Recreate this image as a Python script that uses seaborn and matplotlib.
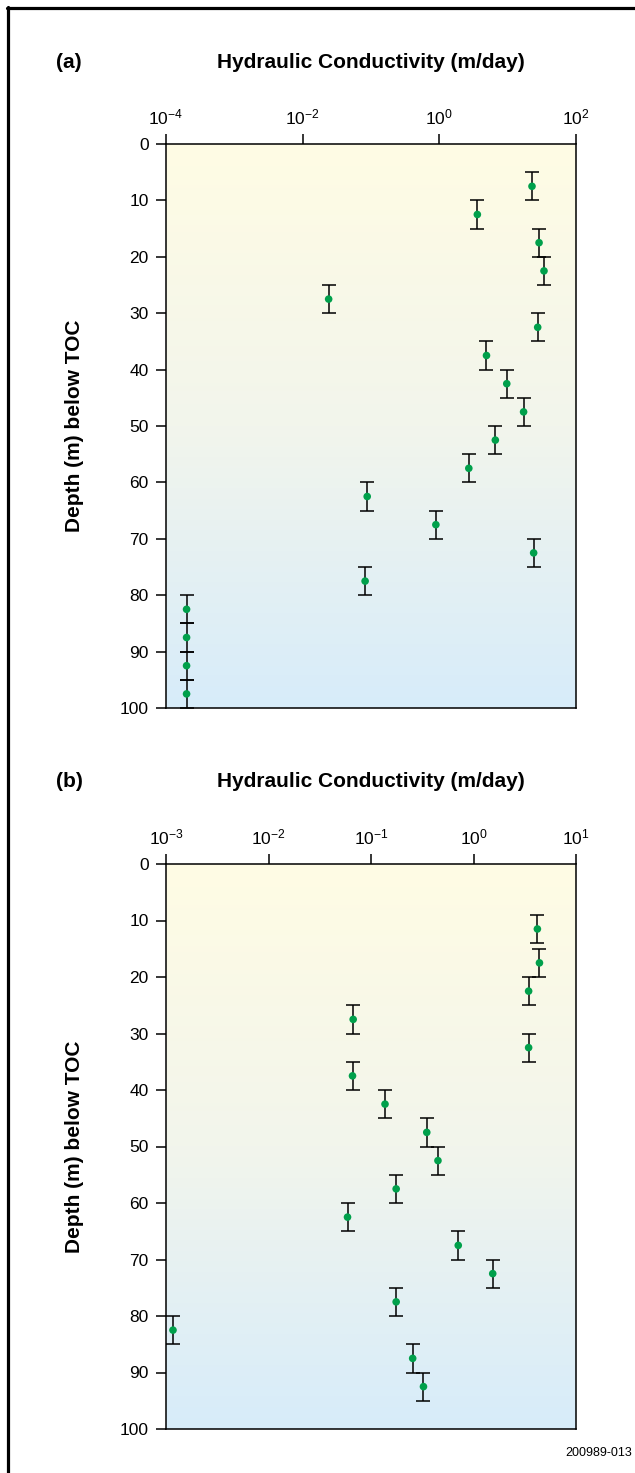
import matplotlib
matplotlib.use("Agg")
import matplotlib.pyplot as plt
import seaborn as sns
import numpy as np
import pandas as pd
from matplotlib.lines import Line2D
from matplotlib.colors import LinearSegmentedColormap
from matplotlib.ticker import NullLocator

# ---------------- data ----------------
depth_a = [7.5, 12.5, 17.5, 22.5, 27.5, 32.5, 37.5, 42.5, 47.5, 52.5,
           57.5, 62.5, 67.5, 72.5, 77.5, 82.5, 87.5, 92.5, 97.5]
k_a = [22.7, 3.6, 28.8, 34.0, 0.024, 27.5, 4.9, 9.7, 17.1, 6.6,
       2.7, 0.088, 0.89, 24.0, 0.082, 2.0e-4, 2.0e-4, 2.0e-4, 2.0e-4]

depth_b = [11.5, 17.5, 22.5, 27.5, 32.5, 37.5, 42.5, 47.5, 52.5, 57.5,
           62.5, 67.5, 72.5, 77.5, 82.5, 87.5, 92.5]
k_b = [4.2, 4.4, 3.45, 0.067, 3.45, 0.066, 0.137, 0.35, 0.45, 0.176,
       0.059, 0.71, 1.54, 0.176, 0.00117, 0.255, 0.325]

interval_half = 2.5

xticks_a = [1e-4, 1e-2, 1e0, 1e2]
xticklabels_a = [r"$\mathregular{10^{-4}}$", r"$\mathregular{10^{-2}}$",
                 r"$\mathregular{10^{0}}$", r"$\mathregular{10^{2}}$"]
xticks_b = [1e-3, 1e-2, 1e-1, 1e0, 1e1]
xticklabels_b = [r"$\mathregular{10^{-3}}$", r"$\mathregular{10^{-2}}$",
                 r"$\mathregular{10^{-1}}$", r"$\mathregular{10^{0}}$",
                 r"$\mathregular{10^{1}}$"]
yticks = list(range(0, 101, 10))

title_text = "Hydraulic Conductivity (m/day)"
ylabel_text = "Depth (m) below TOC"
panel_labels = ["(a)", "(b)"]
footer_text = "200989-013"

# ---------------- style ----------------
sns.set_style("ticks")
plt.rcParams["font.family"] = ["Liberation Sans", "DejaVu Sans"]
plt.rcParams["mathtext.fontset"] = "custom"
plt.rcParams["mathtext.rm"] = "Liberation Sans"
plt.rcParams["mathtext.it"] = "Liberation Sans:italic"
plt.rcParams["mathtext.bf"] = "Liberation Sans:bold"
plt.rcParams["text.color"] = "black"
plt.rcParams["axes.labelcolor"] = "black"
plt.rcParams["xtick.color"] = "black"
plt.rcParams["ytick.color"] = "black"

W, H = 635, 1473
fig = plt.figure(figsize=(W / 100, H / 100), dpi=100)
fig.patch.set_facecolor("white")


def px_rect(l, t, r, b):
    return [l / W, 1 - b / H, (r - l) / W, (b - t) / H]


grad_cmap = LinearSegmentedColormap.from_list(
    "bg", ["#FFFCE4", "#F2F5EC", "#D7ECFA"])

green = "#00A04B"


def panel(rect, depth, k, xlim, xticks, xticklabels, label, title_y):
    bg = fig.add_axes(rect, zorder=0)
    bg.imshow(np.linspace(0, 1, 256)[:, None], aspect="auto",
              cmap=grad_cmap, extent=(0, 1, 0, 1), origin="upper")
    bg.axis("off")

    ax = fig.add_axes(rect, zorder=1)
    ax.set_facecolor("none")
    df = pd.DataFrame({"k": k, "depth": depth})
    ax.errorbar(df["k"], df["depth"], yerr=interval_half, fmt="none",
                ecolor="black", elinewidth=1.1, capsize=4.8, capthick=1.1,
                zorder=2, clip_on=False)
    sns.scatterplot(data=df, x="k", y="depth", ax=ax, color=green, s=30,
                    edgecolor="none", zorder=3, clip_on=False, legend=False)
    ax.set_xscale("log")
    ax.set_xlim(*xlim)
    ax.set_ylim(100, 0)
    ax.set_xticks(xticks)
    ax.set_xticklabels(xticklabels)
    ax.xaxis.set_minor_locator(NullLocator())
    ax.set_yticks(yticks)
    ax.set_yticklabels([str(v) for v in yticks])
    ax.xaxis.tick_top()
    ax.set_xlabel("")
    ax.set_ylabel("")
    ax.tick_params(axis="both", which="major", direction="out", length=7.5,
                   width=1.1, color="black", labelcolor="black", labelsize=12.5)
    ax.tick_params(axis="x", pad=4.5)
    ax.tick_params(axis="y", pad=5)
    for sp in ax.spines.values():
        sp.set_visible(True)
        sp.set_linewidth(1.1)
        sp.set_color("black")

    # titles
    fig.text((rect[0] + rect[2] / 2), 1 - title_y / H, title_text,
             ha="center", va="center", fontsize=15, fontweight="bold",
             color="black")
    fig.text(56 / W, 1 - title_y / H, label, ha="left", va="center",
             fontsize=15, fontweight="bold", color="black")
    fig.text(74 / W, rect[1] + rect[3] / 2, ylabel_text, rotation=90,
             ha="center", va="center", fontsize=15, fontweight="bold",
             color="black")
    return ax


panel(px_rect(166, 144, 576, 708), depth_a, k_a, (1e-4, 1e2),
      xticks_a, xticklabels_a, panel_labels[0], 63)
panel(px_rect(166, 864, 576, 1429), depth_b, k_b, (1e-3, 1e1),
      xticks_b, xticklabels_b, panel_labels[1], 782)

# frame lines (left and top)
fig.add_artist(Line2D([7.7 / W, 7.7 / W], [0, 1 - 6.5 / H],
                      transform=fig.transFigure, color="black", lw=2.3))
fig.add_artist(Line2D([6.5 / W, 1], [1 - 7.5 / H, 1 - 7.5 / H],
                      transform=fig.transFigure, color="black", lw=2.3))

fig.text(632 / W, 1 - 1453 / H, footer_text, ha="right", va="center",
         fontsize=9, color="black")

fig.savefig("out.png", dpi=100)
